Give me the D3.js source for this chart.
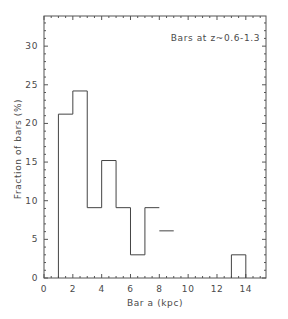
<!DOCTYPE html>
<html>
<head>
<meta charset="utf-8">
<script src="https://cdn.jsdelivr.net/npm/d3@7"></script>
<style>
  body { margin: 0; background: #fff; }
  svg text { font-family: "DejaVu Sans", sans-serif; fill: #4a4a4a; letter-spacing: 0.6px; }
</style>
</head>
<body>
<div id="chart"></div>
<script>
// histogram bins (left edge, kpc) and fraction of bars (%)
var binStart = [1, 2, 3, 4, 5, 6, 7, 8, 13];
var fraction = [21.2, 24.2, 9.1, 15.2, 9.1, 3.0, 9.1, 6.1, 3.0];
// which drawn segment each bin belongs to
var segment = [0, 0, 0, 0, 0, 0, 0, 1, 2];
var segClosedStart = [true, false, true];
var segClosedEnd = [false, false, true];

var xTicks = [0, 2, 4, 6, 8, 10, 12, 14];
var yTicks = [0, 5, 10, 15, 20, 25, 30];
var title = 'Bars at z~0.6-1.3';
var xTitle = 'Bar a (kpc)';
var yTitle = 'Fraction of bars (%)';

var W = 288, H = 319;
var margin = { top: 16, right: 22, bottom: 41, left: 44 };
var width = W - margin.left - margin.right;
var height = H - margin.top - margin.bottom;
var ink = '#555';

var svg = d3.select('#chart').append('svg')
    .attr('width', W).attr('height', H)
    .append('g')
    .attr('transform', 'translate(' + margin.left + ',' + margin.top + ')');

var x = d3.scaleLinear().domain([0, 15.4]).range([0, width]);
var y = d3.scaleLinear().domain([0, 33.9]).range([height, 0]);

// frame
svg.append('rect')
    .attr('width', width).attr('height', height)
    .attr('fill', 'none').attr('stroke', ink).attr('stroke-width', 1);

// ticks, mirrored on all four sides
var xMinor = d3.range(0, 15.4, 0.5);
var yMinor = d3.range(0, 34, 1);

function tickLines(vals, isMajor) {
    var len = isMajor ? 4 : 2;
    var g = svg.append('g').attr('stroke', ink).attr('stroke-width', 1);
    vals.forEach(function (v) {
        var px = x(v);
        g.append('line').attr('x1', px).attr('x2', px).attr('y1', height).attr('y2', height - len);
        g.append('line').attr('x1', px).attr('x2', px).attr('y1', 0).attr('y2', len);
    });
}
tickLines(xMinor.filter(function (v) { return v % 2 !== 0; }), false);
tickLines(xTicks, true);

function yTickLines(vals, isMajor) {
    var len = isMajor ? 4 : 2;
    var g = svg.append('g').attr('stroke', ink).attr('stroke-width', 1);
    vals.forEach(function (v) {
        var py = y(v);
        g.append('line').attr('x1', 0).attr('x2', len).attr('y1', py).attr('y2', py);
        g.append('line').attr('x1', width).attr('x2', width - len).attr('y1', py).attr('y2', py);
    });
}
yTickLines(yMinor.filter(function (v) { return v % 5 !== 0; }), false);
yTickLines(yTicks, true);

// tick labels
svg.append('g').selectAll('text')
    .data(xTicks).enter().append('text')
    .attr('x', function (d) { return x(d); })
    .attr('y', height + 14)
    .attr('text-anchor', 'middle')
    .style('font-size', '9px')
    .text(function (d) { return d; });

svg.append('g').selectAll('text')
    .data(yTicks).enter().append('text')
    .attr('x', -6)
    .attr('y', function (d) { return y(d) + 3; })
    .attr('text-anchor', 'end')
    .style('font-size', '9px')
    .text(function (d) { return d; });

// histogram
var groups = d3.groups(binStart.map(function (b, i) {
    return { x0: b, x1: b + 1, v: fraction[i], seg: segment[i] };
}), function (d) { return d.seg; });

var line = d3.line()
    .x(function (p) { return x(p[0]); })
    .y(function (p) { return y(p[1]); });

groups.forEach(function (gr) {
    var s = gr[0], bins = gr[1];
    var pts = [];
    if (segClosedStart[s]) pts.push([bins[0].x0, 0]);
    bins.forEach(function (d) {
        pts.push([d.x0, d.v]);
        pts.push([d.x1, d.v]);
    });
    if (segClosedEnd[s]) pts.push([bins[bins.length - 1].x1, 0]);
    svg.append('path')
        .attr('d', line(pts))
        .attr('fill', 'none')
        .attr('stroke', '#444')
        .attr('stroke-width', 1);
});

// labels
svg.append('text')
    .attr('x', width - 6)
    .attr('y', 25)
    .attr('text-anchor', 'end')
    .style('font-size', '9px')
    .text(title);

svg.append('text')
    .attr('x', width / 2)
    .attr('y', height + 28)
    .attr('text-anchor', 'middle')
    .style('font-size', '9px')
    .text(xTitle);

svg.append('text')
    .attr('transform', 'rotate(-90)')
    .attr('x', -height / 2 - 2)
    .attr('y', -23)
    .attr('text-anchor', 'middle')
    .style('font-size', '9px')
    .text(yTitle);
</script>
</body>
</html>
